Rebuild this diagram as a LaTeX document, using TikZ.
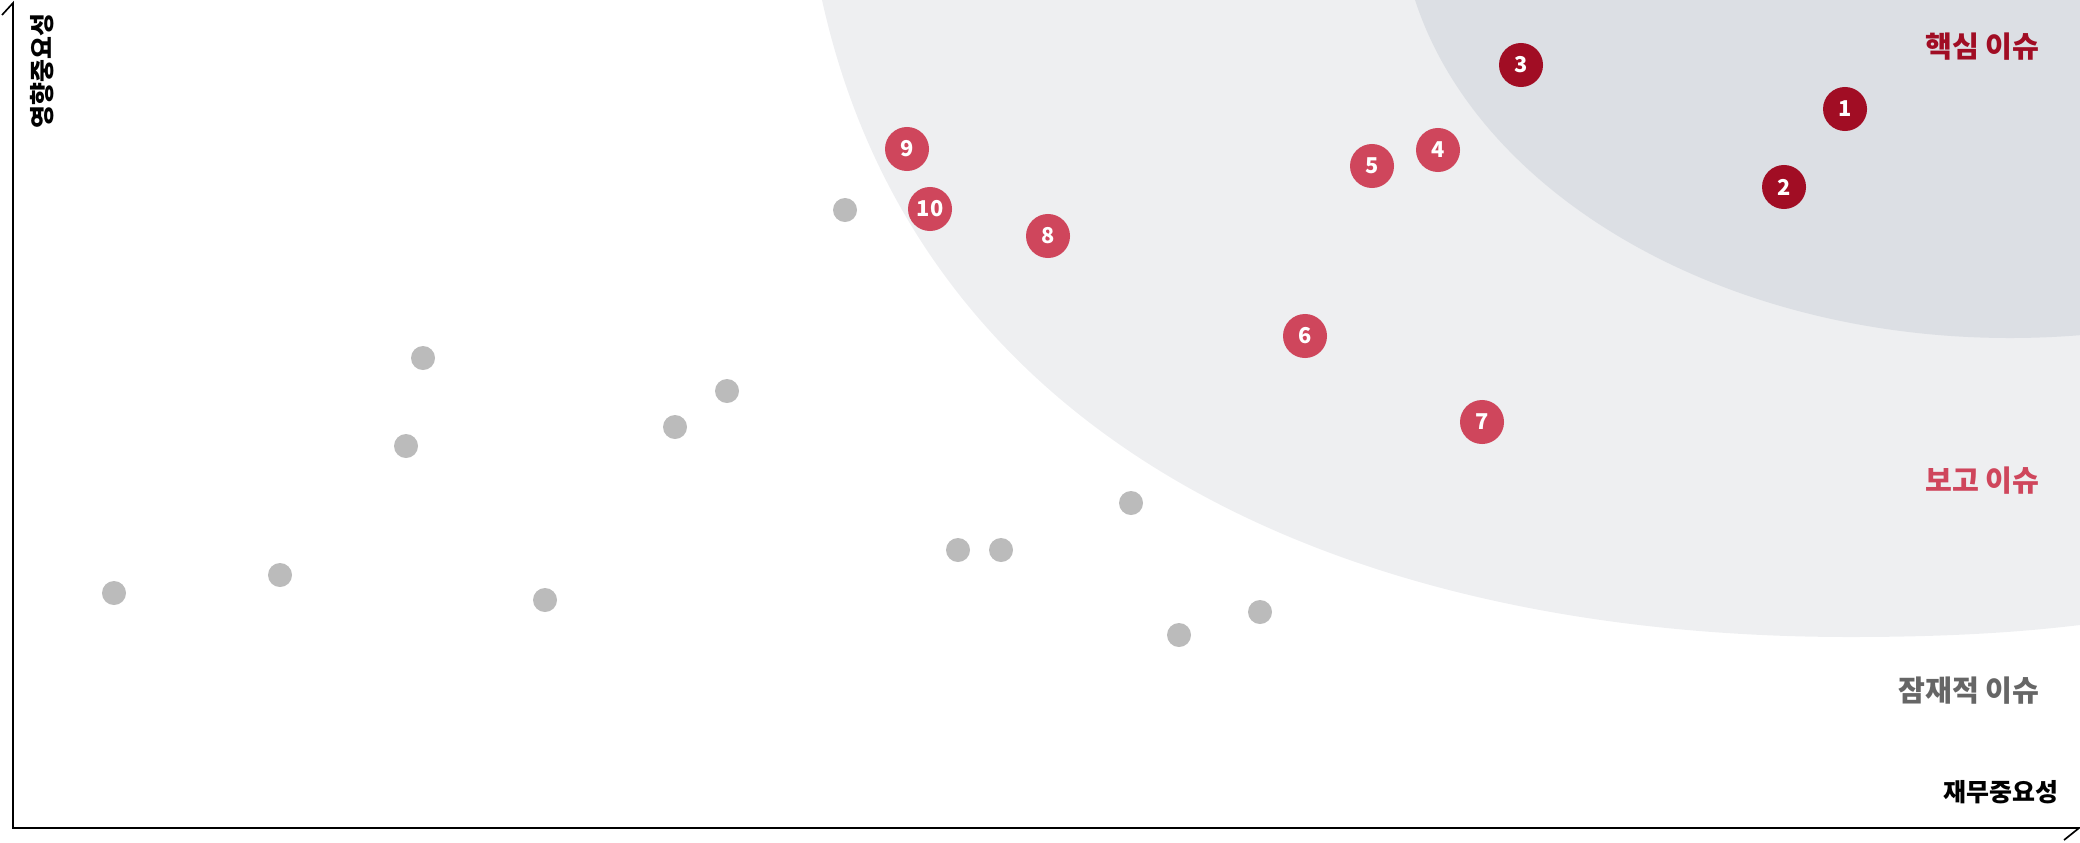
\documentclass[tikz,border=0pt]{standalone}
\usepackage{fontspec}
\setmainfont{Noto Sans CJK KR}
\definecolor{coreRed}{HTML}{A10D24}
\definecolor{reportRed}{HTML}{CF465C}
\definecolor{potentialGray}{HTML}{666666}
\definecolor{dotGray}{HTML}{BBBBBB}
\definecolor{reportBg}{HTML}{EEEFF1}
\definecolor{coreBg}{HTML}{DCDFE4}

\begin{document}
\begin{tikzpicture}[x=0.01cm, y=-0.01cm,
    issue/.style={circle, inner sep=0pt, minimum size=0.44cm, text=white,
      font=\fontsize{6.2pt}{7pt}\selectfont\bfseries},
    core/.style={issue, fill=coreRed},
    report/.style={issue, fill=reportRed},
    dot/.style={circle, inner sep=0pt, minimum size=0.24cm, fill=dotGray},
    zone/.style={anchor=east, inner sep=0pt, font=\fontsize{8.3pt}{9pt}\selectfont\bfseries},
    axislabel/.style={inner sep=0pt, font=\fontsize{7.1pt}{8pt}\selectfont\bfseries}]
  \useasboundingbox (0,0) rectangle (2080,842);

  % zones
  \begin{scope}
    \clip (0,0) rectangle (2080,842);
    \fill[reportBg] (822,0) .. controls (919,440) and (1340,637) .. (1850,637)
      .. controls (1960,637) and (2030,631) .. (2080,625) -- (2080,0) -- cycle;
    \fill[coreBg] (2010,-100) ellipse [x radius=611, y radius=438];
  \end{scope}

  % axes
  \coordinate (ytip) at (13,3);
  \coordinate (ybarb) at (2,15);
  \coordinate (origin) at (13,828);
  \coordinate (xtip) at (2079,828);
  \coordinate (xbarb) at (2064,840);
  \draw[line width=0.47pt] (ybarb) -- (ytip) -- (origin) -- (xtip) -- (xbarb);
  \node[axislabel, rotate=90] (ylab) at (42,71) {영향중요성};
  \node[axislabel] (xlab) at (2001,792) {재무중요성};

  \node[zone, text=coreRed] (corelab) at (2040,47) {핵심 이슈};
  \node[zone, text=reportRed] (reportlab) at (2040,481) {보고 이슈};
  \node[zone, text=potentialGray] (potentiallab) at (2040,691) {잠재적 이슈};

  % potential issues
  \node[dot] (g1) at (114,593) {};
  \node[dot] (g2) at (280,575) {};
  \node[dot] (g3) at (406,446) {};
  \node[dot] (g4) at (423,358) {};
  \node[dot] (g5) at (545,600) {};
  \node[dot] (g6) at (675,427) {};
  \node[dot] (g7) at (727,391) {};
  \node[dot] (g8) at (845,210) {};
  \node[dot] (g9) at (958,550) {};
  \node[dot] (g10) at (1001,550) {};
  \node[dot] (g11) at (1131,503) {};
  \node[dot] (g12) at (1179,635) {};
  \node[dot] (g13) at (1260,612) {};

  % report issues
  \node[report] (i4) at (1438,150) {4};
  \node[report] (i5) at (1372,166) {5};
  \node[report] (i6) at (1305,336) {6};
  \node[report] (i7) at (1482,422) {7};
  \node[report] (i8) at (1048,236) {8};
  \node[report] (i9) at (907,149) {9};
  \node[report] (i10) at (930,209) {10};

  % core issues
  \node[core] (i1) at (1845,109) {1};
  \node[core] (i2) at (1784,187) {2};
  \node[core] (i3) at (1521,65) {3};
\end{tikzpicture}
\end{document}
